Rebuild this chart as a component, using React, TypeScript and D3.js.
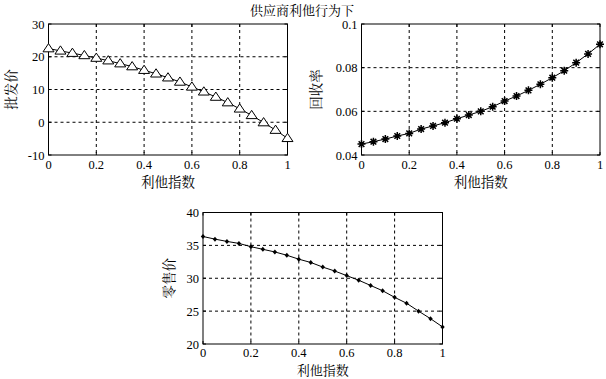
import React from "react";
import * as d3 from "d3";

const xs = d3.range(0, 21).map((i) => i * 0.05);
const wholesale = [22.5, 21.8, 21.1, 20.4, 19.6, 18.8, 17.9, 17.0, 15.9, 14.8, 13.6, 12.3, 10.8, 9.3, 7.7, 6.0, 4.1, 2.1, -0.1, -2.4, -4.9];
const recovery = [0.045, 0.0461, 0.0473, 0.0487, 0.0499, 0.0519, 0.0533, 0.0548, 0.0566, 0.0583, 0.06, 0.0621, 0.0647, 0.067, 0.0696, 0.0724, 0.0754, 0.0786, 0.0823, 0.0863, 0.0907];
const retail = [36.35, 35.95, 35.6, 35.3, 34.8, 34.4, 34.0, 33.5, 32.9, 32.4, 31.7, 31.1, 30.4, 29.7, 28.9, 28.1, 27.1, 26.2, 25.0, 23.85, 22.6];
const xTicks = [0, 0.2, 0.4, 0.6, 0.8, 1];
const yTicks1 = [-10, 0, 10, 20, 30];
const yTicks2 = [0.04, 0.06, 0.08, 0.1];
const yTicks3 = [20, 25, 30, 35, 40];
const title = "供应商利他行为下";
const xLabel = "利他指数";

const FONT = "'Liberation Serif', 'Times New Roman', 'Noto Sans CJK SC', serif";
const CJK = "'Noto Serif CJK SC', 'Noto Sans CJK SC', serif";

type PanelProps = {
  x0: number; x1: number; y0: number; y1: number;
  yDomain: [number, number]; yTicks: number[]; values: number[];
  yLabel: string; marker: "tri" | "star" | "dot"; fmt: (v: number) => string;
  yLabelX: number; xLabelOffset: number; tickOffset: number; labelSize: number;
};

function Marker({ kind, cx, cy }: { kind: string; cx: number; cy: number }) {
  if (kind === "tri") {
    const s = 5;
    return <path d={`M${cx},${cy - s} L${cx + s * 1.1},${cy + s * 0.65} L${cx - s * 1.1},${cy + s * 0.65} Z`} fill="white" stroke="black" strokeWidth={1} />;
  }
  if (kind === "star") {
    const r = 4;
    const p: string[] = [];
    for (let k = 0; k < 4; k++) {
      const a = (k * Math.PI) / 4;
      p.push(`M${cx - r * Math.cos(a)},${cy - r * Math.sin(a)} L${cx + r * Math.cos(a)},${cy + r * Math.sin(a)}`);
    }
    return <path d={p.join(" ")} stroke="black" strokeWidth={1.5} />;
  }
  return <path d={`M${cx},${cy - 2.5} L${cx + 2.2},${cy} L${cx},${cy + 2.5} L${cx - 2.2},${cy} Z`} fill="black" />;
}

function Panel(p: PanelProps) {
  const x = d3.scaleLinear().domain([0, 1]).range([p.x0, p.x1]);
  const y = d3.scaleLinear().domain(p.yDomain).range([p.y1, p.y0]);
  const line = d3.line<number>().x((_, i) => x(xs[i])).y((d) => y(d));
  return (
    <g>
      {xTicks.slice(1, -1).map((t) => (
        <line key={"gx" + t} x1={x(t)} x2={x(t)} y1={p.y0} y2={p.y1} stroke="black" strokeWidth={1} strokeDasharray="3,3" />
      ))}
      {p.yTicks.slice(1, -1).map((t) => (
        <line key={"gy" + t} x1={p.x0} x2={p.x1} y1={y(t)} y2={y(t)} stroke="black" strokeWidth={1} strokeDasharray="3,3" />
      ))}
      {xTicks.map((t) => (
        <g key={"tx" + t}>
          <line x1={x(t)} x2={x(t)} y1={p.y1} y2={p.y1 - 3} stroke="black" />
          <line x1={x(t)} x2={x(t)} y1={p.y0} y2={p.y0 + 3} stroke="black" />
          <text x={x(t)} y={p.y1 + p.tickOffset} textAnchor="middle" fontSize={12.5} fontFamily={FONT}>{d3.format("~g")(t)}</text>
        </g>
      ))}
      {p.yTicks.map((t) => (
        <g key={"ty" + t}>
          <line x1={p.x0} x2={p.x0 + 3} y1={y(t)} y2={y(t)} stroke="black" />
          <line x1={p.x1} x2={p.x1 - 3} y1={y(t)} y2={y(t)} stroke="black" />
          <text x={p.x0 - 4} y={y(t) + 4.5} textAnchor="end" fontSize={12.5} fontFamily={FONT}>{p.fmt(t)}</text>
        </g>
      ))}
      <rect x={p.x0} y={p.y0} width={p.x1 - p.x0} height={p.y1 - p.y0} fill="none" stroke="black" strokeWidth={1} />
      <path d={line(p.values) || ""} fill="none" stroke="black" strokeWidth={1} />
      {p.values.map((v, i) => (
        <Marker key={i} kind={p.marker} cx={x(xs[i])} cy={y(v)} />
      ))}
      <text x={(p.x0 + p.x1) / 2} y={p.y1 + p.xLabelOffset} textAnchor="middle" fontSize={p.labelSize} fontFamily={CJK}>{xLabel}</text>
      <text transform={`translate(${p.yLabelX},${(p.y0 + p.y1) / 2}) rotate(-90)`} textAnchor="middle" fontSize={13.5} fontFamily={CJK}>{p.yLabel}</text>
    </g>
  );
}

export default function App() {
  return (
    <svg width={606} height={379} style={{ position: "absolute", left: 0, top: 0, background: "white" }}>
      <rect width={606} height={379} fill="white" />
      <text x={302} y={15} textAnchor="middle" fontSize={13} fontFamily={CJK}>{title}</text>
      <Panel x0={48.5} x1={287.5} y0={24} y1={155} yDomain={[-10, 30]} yTicks={yTicks1} values={wholesale}
        yLabel="批发价" marker="tri" fmt={(v) => String(v)} yLabelX={16} xLabelOffset={32} tickOffset={14} labelSize={13.5} />
      <Panel x0={361.5} x1={600} y0={24} y1={155} yDomain={[0.04, 0.1]} yTicks={yTicks2} values={recovery}
        yLabel="回收率" marker="star" fmt={(v) => d3.format("~g")(+v.toFixed(2))} yLabelX={321} xLabelOffset={32} tickOffset={14} labelSize={13.5} />
      <Panel x0={203} x1={442.5} y0={212.5} y1={344} yDomain={[20, 40]} yTicks={yTicks3} values={retail}
        yLabel="零售价" marker="dot" fmt={(v) => String(v)} yLabelX={174} xLabelOffset={31} tickOffset={13} labelSize={13} />
    </svg>
  );
}
